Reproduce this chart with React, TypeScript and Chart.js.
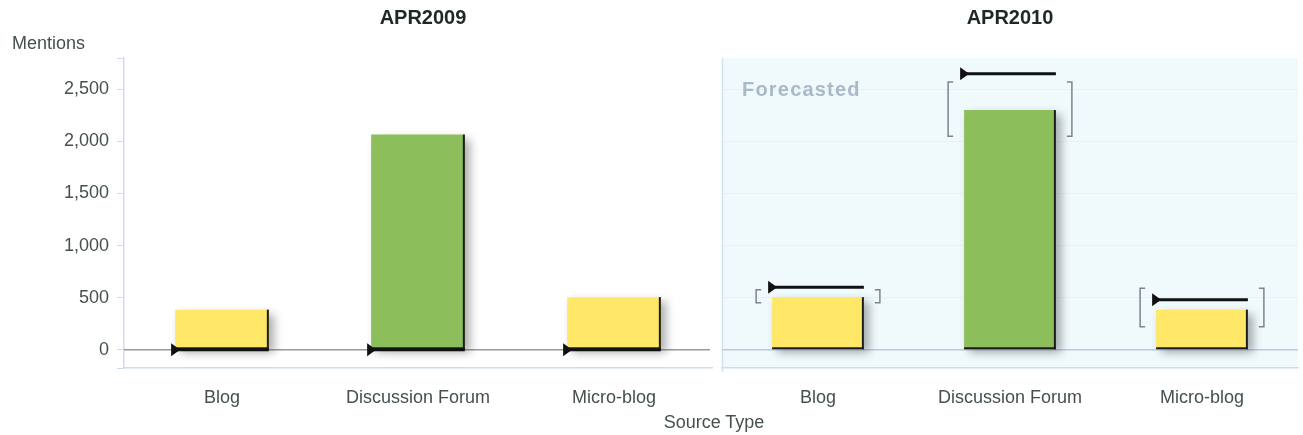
import React, { useEffect, useRef } from 'react';
import { Chart, registerables } from 'chart.js';

Chart.register(...registerables);

// ---- data ----
const categories = ['Blog', 'Discussion Forum', 'Micro-blog'];
const periods = ['APR2009', 'APR2010'];
const mentions2009 = [385, 2065, 505];
const targets2009 = [0, 0, 0];
const mentions2010 = [505, 2300, 385];
const targets2010 = [600, 2650, 480];
const rangeLow2010 = [450, 2050, 220];
const rangeHigh2010 = [575, 2570, 590];
const barColors = ['#FFE868', '#8CBE5B', '#FFE868'];
const yTickValues = [0, 500, 1000, 1500, 2000, 2500];
const yMin = -175;
const yMax = 2800;

const FONT = '"Liberation Sans", Arial, Helvetica, sans-serif';
const TEXT = '#465050';
const AXIS = '#cfdceb';

type PanelSpec = {
  title: string;
  values: number[];
  targets: number[];
  low?: number[];
  high?: number[];
  forecast: boolean;
  showAxis: boolean;
  titleShift: number;
};

function panelPlugin(spec: PanelSpec) {
  return {
    id: 'panelDecor',
    beforeDraw(chart: any) {
      if (!spec.forecast) return;
      const { ctx, chartArea: a } = chart;
      ctx.save();
      ctx.fillStyle = '#f0f9fc';
      ctx.fillRect(a.left, a.top, a.right - a.left, a.bottom - a.top);
      ctx.strokeStyle = '#d4e2ee';
      ctx.lineWidth = 1.5;
      ctx.beginPath();
      ctx.moveTo(a.left + 0.5, a.top);
      ctx.lineTo(a.left + 0.5, a.bottom + 4);
      ctx.stroke();
      ctx.restore();
    },
    beforeDatasetsDraw(chart: any) {
      const { ctx, chartArea: a, scales } = chart;
      const y0 = scales.y.getPixelForValue(0);
      ctx.save();
      ctx.strokeStyle = spec.forecast ? '#bccbdc' : '#9a9a9a';
      ctx.lineWidth = 1.5;
      ctx.beginPath();
      ctx.moveTo(a.left, y0);
      ctx.lineTo(a.right - (spec.forecast ? 0 : 2), y0);
      ctx.stroke();
      if (spec.forecast) {
        ctx.fillStyle = '#a9b9c8';
        ctx.font = `bold 20px ${FONT}`;
        ctx.textBaseline = 'middle';
        ctx.textAlign = 'left';
        try { (ctx as any).letterSpacing = '1.2px'; } catch (e) { /* ignore */ }
        ctx.fillText('Forecasted', a.left + 20, 90);
      }
      ctx.restore();
    },
    beforeDatasetDraw(chart: any) {
      const ctx = chart.ctx;
      ctx.save();
      ctx.shadowColor = 'rgba(0,0,0,0.33)';
      ctx.shadowBlur = 9;
      ctx.shadowOffsetX = 5;
      ctx.shadowOffsetY = 4;
    },
    afterDatasetDraw(chart: any) {
      const ctx = chart.ctx;
      ctx.restore();
      const y = chart.scales.y;
      const bars = chart.getDatasetMeta(0).data;
      ctx.save();
      bars.forEach((bar: any, i: number) => {
        const p = bar.getProps(['x', 'y', 'base', 'width'], true);
        const left = p.x - p.width / 2;
        const right = p.x + p.width / 2;
        // dark right and bottom edges
        ctx.fillStyle = '#1c1c1c';
        ctx.fillRect(right - 2, p.y, 2, p.base - p.y);
        ctx.fillRect(left, p.base - 2, p.width, 2);

        // range brackets
        if (spec.low && spec.high) {
          const yh = y.getPixelForValue(spec.high[i]);
          const yl = y.getPixelForValue(spec.low[i]);
          const bl = left - 16;
          const br = right + 16;
          ctx.strokeStyle = '#7c848a';
          ctx.lineWidth = 1.5;
          ctx.beginPath();
          ctx.moveTo(bl + 5, yh);
          ctx.lineTo(bl, yh);
          ctx.lineTo(bl, yl);
          ctx.lineTo(bl + 5, yl);
          ctx.moveTo(br - 5, yh);
          ctx.lineTo(br, yh);
          ctx.lineTo(br, yl);
          ctx.lineTo(br - 5, yl);
          ctx.stroke();
        }

        // target marker
        const ty = y.getPixelForValue(spec.targets[i]);
        const tx = left - 4;
        ctx.strokeStyle = '#111';
        ctx.lineWidth = 3;
        ctx.beginPath();
        ctx.moveTo(tx + 4, ty);
        ctx.lineTo(right, ty);
        ctx.stroke();
        ctx.fillStyle = '#111';
        ctx.beginPath();
        ctx.moveTo(tx, ty - 6.5);
        ctx.lineTo(tx + 9, ty);
        ctx.lineTo(tx, ty + 6.5);
        ctx.closePath();
        ctx.fill();
      });
      ctx.restore();
    },
    afterDraw(chart: any) {
      const { ctx, chartArea: a } = chart;
      ctx.save();
      ctx.fillStyle = '#1e2828';
      ctx.font = `bold 20px ${FONT}`;
      ctx.textAlign = 'center';
      ctx.textBaseline = 'middle';
      ctx.fillText(spec.title, (a.left + a.right) / 2 + spec.titleShift, 18);
      if (spec.showAxis) {
        ctx.fillStyle = TEXT;
        ctx.font = `18px ${FONT}`;
        ctx.textAlign = 'left';
        ctx.fillText('Mentions', 12, 44);
      }
      ctx.restore();
    },
  };
}

function buildConfig(spec: PanelSpec, padding: any): any {
  return {
    type: 'bar',
    data: {
      labels: categories,
      datasets: [
        {
          data: spec.values,
          backgroundColor: barColors,
          borderWidth: 0,
          barPercentage: 0.478,
          categoryPercentage: 1,
        },
      ],
    },
    options: {
      responsive: false,
      animation: false,
      events: [],
      layout: { padding },
      plugins: {
        legend: { display: false },
        tooltip: { enabled: false },
        title: { display: false },
      },
      scales: {
        x: {
          type: 'category',
          offset: true,
          grid: { display: false },
          border: { display: true, color: AXIS, width: 1.5 },
          ticks: {
            color: TEXT,
            font: { family: FONT, size: 18 },
            padding: 11,
            maxRotation: 0,
            autoSkip: false,
          },
          afterFit: (s: any) => {
            s.height = 67;
          },
        },
        y: {
          min: yMin,
          max: yMax,
          display: true,
          afterBuildTicks: (s: any) => {
            s.ticks = [yMin, ...yTickValues, yMax].map((v) => ({ value: v }));
          },
          ticks: {
            display: spec.showAxis,
            color: TEXT,
            font: { family: FONT, size: 18 },
            padding: 8,
            callback: (v: number) =>
              yTickValues.includes(v) ? v.toLocaleString('en-US') : '',
          },
          grid: spec.showAxis
            ? { drawOnChartArea: false, drawTicks: true, tickLength: 7, color: AXIS }
            : {
                drawTicks: false,
                color: (c: any) =>
                  c.tick && c.tick.value > 0 && yTickValues.includes(c.tick.value)
                    ? 'rgba(205,218,230,0.25)'
                    : 'rgba(0,0,0,0)',
              },
          border: { display: spec.showAxis, color: AXIS, width: 1.5 },
          afterFit: (s: any) => {
            s.width = spec.showAxis ? 124 : 0;
          },
        },
      },
    },
    plugins: [panelPlugin(spec)],
  };
}

export default function App() {
  const leftRef = useRef<HTMLCanvasElement>(null);
  const rightRef = useRef<HTMLCanvasElement>(null);

  useEffect(() => {
    const left = new Chart(
      leftRef.current as HTMLCanvasElement,
      buildConfig(
        {
          title: periods[0],
          values: mentions2009,
          targets: targets2009,
          forecast: false,
          showAxis: true,
          titleShift: 5,
        },
        { top: 58, left: 0, right: 6, bottom: 0 }
      )
    );
    const right = new Chart(
      rightRef.current as HTMLCanvasElement,
      buildConfig(
        {
          title: periods[1],
          values: mentions2010,
          targets: targets2010,
          low: rangeLow2010,
          high: rangeHigh2010,
          forecast: true,
          showAxis: false,
          titleShift: 0,
        },
        { top: 58, left: 4, right: 5, bottom: 0 }
      )
    );
    return () => {
      left.destroy();
      right.destroy();
    };
  }, []);

  return (
    <div
      style={{
        position: 'absolute',
        left: 0,
        top: 0,
        width: 1303,
        height: 435,
        background: '#ffffff',
        overflow: 'hidden',
      }}
    >
      <canvas
        ref={leftRef}
        width={718}
        height={435}
        style={{ position: 'absolute', left: 0, top: 0, width: 718, height: 435 }}
      />
      <canvas
        ref={rightRef}
        width={585}
        height={435}
        style={{ position: 'absolute', left: 718, top: 0, width: 585, height: 435 }}
      />
      <div
        style={{
          position: 'absolute',
          left: 614,
          top: 411,
          width: 200,
          lineHeight: '22px',
          textAlign: 'center',
          fontFamily: FONT,
          fontSize: 18,
          color: TEXT,
        }}
      >
        Source Type
      </div>
    </div>
  );
}
